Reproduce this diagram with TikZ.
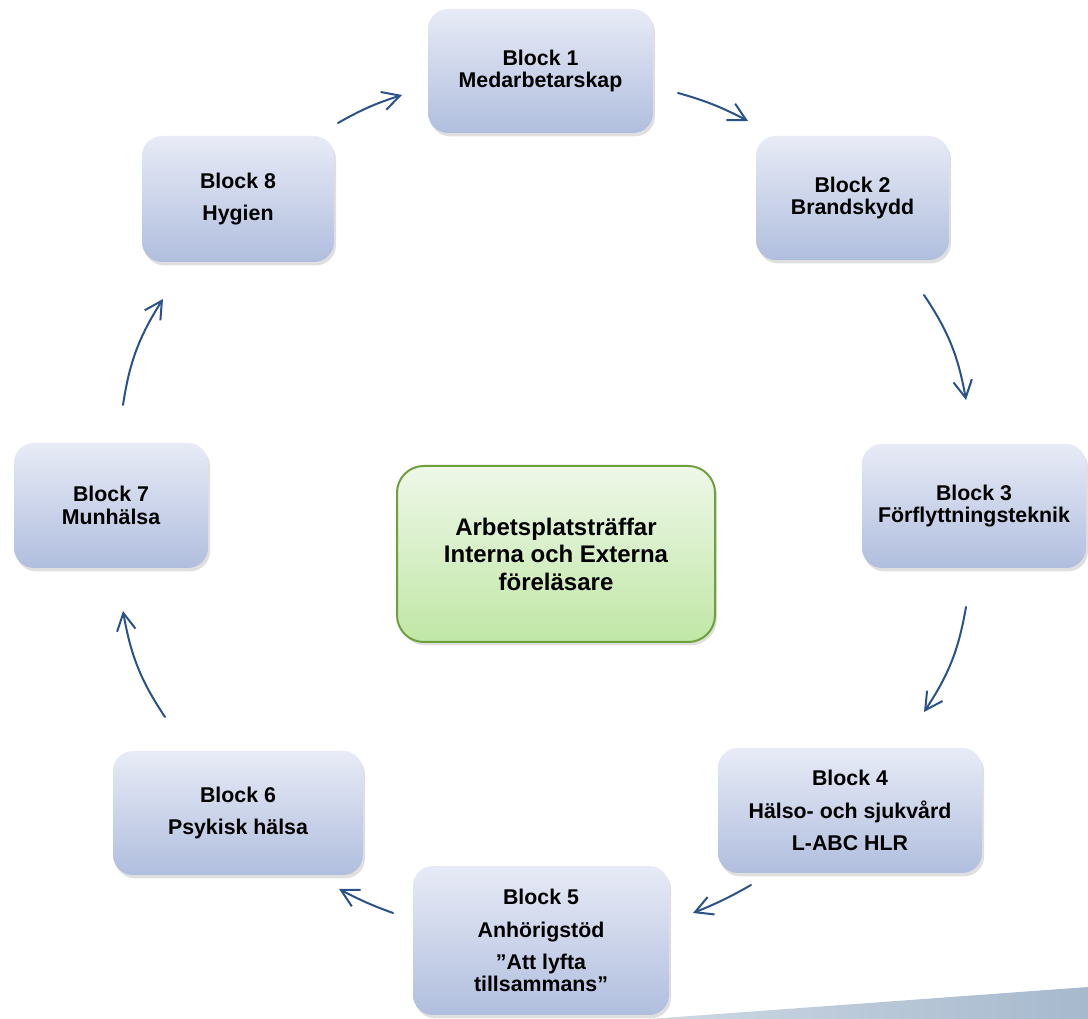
\documentclass[tikz,border=0pt]{standalone}
\usepackage{fontspec}
\setmainfont{Liberation Sans}
\usetikzlibrary{arrows.meta,shadows,bending}
\definecolor{boxtop}{RGB}{232,235,246}
\definecolor{boxbot}{RGB}{176,190,222}
\definecolor{grtop}{RGB}{238,247,232}
\definecolor{grbot}{RGB}{192,231,166}
\definecolor{grline}{RGB}{110,160,60}
\definecolor{arrcol}{RGB}{42,82,138}
\definecolor{wedgeL}{RGB}{205,216,228}
\definecolor{wedgeR}{RGB}{166,185,205}
\begin{document}
\begin{tikzpicture}[x=0.75pt,y=0.75pt,
  blk/.style={rounded corners=15pt, top color=boxtop, bottom color=boxbot, draw=none,
    align=center, font=\bfseries\fontsize{16}{16.8}\selectfont, inner sep=0pt,
    drop shadow={shadow xshift=1.5pt,shadow yshift=-2.5pt,opacity=0.25}},
  hub/.style={rounded corners=20pt, top color=grtop, bottom color=grbot, draw=grline,
    line width=1.5pt, align=center, font=\bfseries\fontsize{18}{20.6}\selectfont, inner sep=0pt,
    drop shadow={shadow xshift=1.5pt,shadow yshift=-2.5pt,opacity=0.25}},
  conn/.style={draw=arrcol, line width=1.5pt, line cap=round,
    -{Straight Barb[length=13pt,width=14pt,line width=1.5pt]}},
]
\useasboundingbox (0,0) rectangle (1088,1019);
% background wedge
\shade[left color=wedgeL, right color=wedgeR] (650,0) -- (1088,32) -- (1088,0) -- cycle;

% blocks
\node[blk, minimum width=168.75pt, minimum height=93pt] (b1) at (540.5,948) {Block 1\\Medarbetarskap};
\node[blk, minimum width=144.75pt, minimum height=93pt] (b2) at (852.5,821) {Block 2\\Brandskydd};
\node[blk, minimum width=168pt, minimum height=93pt] (b3) at (974,513) {Block 3\\Förflyttningsteknik};
\node[blk, minimum width=198pt, minimum height=93.75pt] (b4) at (850,208.5) {Block 4\\[7.5pt]Hälso- och sjukvård\\[7.5pt]L-ABC HLR};
\node[blk, minimum width=192pt, minimum height=111.75pt] (b5) at (541,78.5) {Block 5\\[8pt]Anhörigstöd\\[7pt]”Att lyfta\\tillsammans”};
\node[blk, minimum width=187.5pt, minimum height=93pt] (b6) at (238,206) {Block 6\\[7.5pt]Psykisk hälsa};
\node[blk, minimum width=145.5pt, minimum height=93.75pt] (b7) at (111,513.5) {Block 7\\Munhälsa};
\node[blk, minimum width=144pt, minimum height=94.5pt] (b8) at (238,820) {Block 8\\[7.5pt]Hygien};
\node[hub, minimum width=238.5pt, minimum height=132pt] (hub) at (556,465) {Arbetsplatsträffar\\Interna och Externa\\föreläsare};

% arrow end points
\coordinate (a12s) at (678,926);  \coordinate (a12e) at (748,898);
\coordinate (a23s) at (924,724);  \coordinate (a23e) at (966,619);
\coordinate (a34s) at (966,412);  \coordinate (a34e) at (924,307);
\coordinate (a45s) at (751,134);  \coordinate (a45e) at (693,106);
\coordinate (a56s) at (393,106);  \coordinate (a56e) at (339,130);
\coordinate (a67s) at (165,302);  \coordinate (a67e) at (123,408);
\coordinate (a78s) at (123,614);  \coordinate (a78e) at (163,720);
\coordinate (a81s) at (338,896);  \coordinate (a81e) at (402,924);

\draw[conn] (a12s) to[bend left=6] (a12e);
\draw[conn] (a23s) to[bend left=12] (a23e);
\draw[conn] (a34s) to[bend left=12] (a34e);
\draw[conn] (a45s) to[bend left=4] (a45e);
\draw[conn] (a56s) to[bend left=4] (a56e);
\draw[conn] (a67s) to[bend left=12] (a67e);
\draw[conn] (a78s) to[bend left=12] (a78e);
\draw[conn] (a81s) to[bend left=6] (a81e);
\end{tikzpicture}
\end{document}
